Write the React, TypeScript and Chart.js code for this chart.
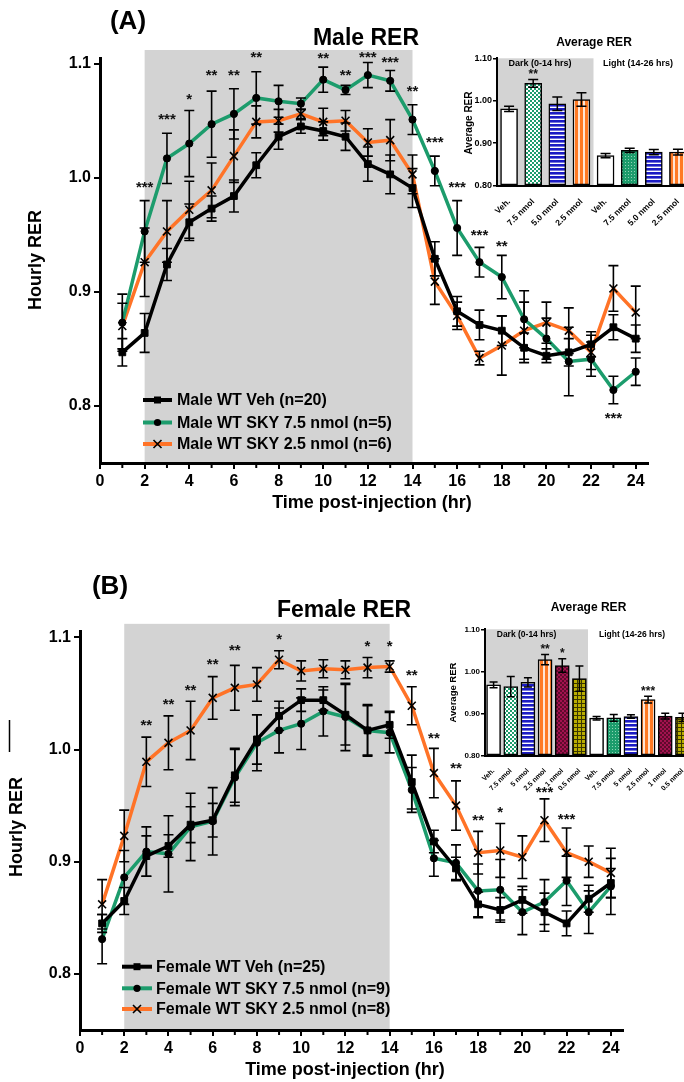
import React, { useEffect, useRef } from 'react';
import { Chart, registerables } from 'chart.js';

Chart.register(...registerables);

const FONT = '"Liberation Sans", Arial, Helvetica, sans-serif';
const GREEN = '#1c9c6c';
const ORANGE = '#ff7327';
const SHADE = '#d3d3d3';

// ---------------- data ----------------
const hours = [1, 2, 3, 4, 5, 6, 7, 8, 9, 10, 11, 12, 13, 14, 15, 16, 17, 18, 19, 20, 21, 22, 23, 24];
const hourTicks = [0, 1, 2, 3, 4, 5, 6, 7, 8, 9, 10, 11, 12, 13, 14, 15, 16, 17, 18, 19, 20, 21, 22, 23, 24];
const rerTicks = [0.8, 0.9, 1.0, 1.1];
const avgTicks = [0.8, 0.9, 1.0, 1.1];
const darkPhase = [2, 14];
const shadeTop = 1.112;

// Panel A – male
const maleVeh = [0.847, 0.864, 0.924, 0.961, 0.973, 0.984, 1.011, 1.036, 1.045, 1.041, 1.036, 1.012, 1.003, 0.991, 0.929, 0.883, 0.871, 0.866, 0.851, 0.844, 0.847, 0.854, 0.869, 0.859];
const maleVehErr = [0.012, 0.017, 0.014, 0.016, 0.011, 0.014, 0.011, 0.011, 0.006, 0.008, 0.012, 0.015, 0.017, 0.017, 0.015, 0.013, 0.013, 0.013, 0.013, 0.006, 0.012, 0.011, 0.011, 0.012];
const maleSky75 = [0.873, 0.953, 1.017, 1.030, 1.047, 1.056, 1.070, 1.067, 1.065, 1.086, 1.077, 1.090, 1.085, 1.051, 1.006, 0.956, 0.926, 0.913, 0.876, 0.859, 0.839, 0.841, 0.814, 0.830];
const maleSky75Err = [0.025, 0.027, 0.022, 0.029, 0.029, 0.022, 0.023, 0.014, 0.005, 0.011, 0.004, 0.011, 0.009, 0.013, 0.013, 0.024, 0.013, 0.019, 0.025, 0.018, 0.030, 0.015, 0.012, 0.012];
const maleSky25 = [0.870, 0.926, 0.953, 0.972, 0.989, 1.019, 1.049, 1.050, 1.056, 1.049, 1.050, 1.031, 1.033, 1.003, 0.909, 0.879, 0.842, 0.853, 0.866, 0.873, 0.866, 0.847, 0.903, 0.882];
const maleSky25Err = [0.020, 0.030, 0.027, 0.025, 0.024, 0.023, 0.014, 0.010, 0.004, 0.012, 0.009, 0.012, 0.018, 0.017, 0.020, 0.012, 0.006, 0.026, 0.025, 0.018, 0.020, 0.015, 0.020, 0.023];
const maleStarHours = [2, 3, 4, 5, 6, 7, 10, 11, 12, 13, 14, 15, 16, 17, 18, 23];
const maleStarLabels = ['***', '***', '*', '**', '**', '**', '**', '**', '***', '***', '**', '***', '***', '***', '**', '***'];
const maleStarY = [0.994, 1.053, 1.071, 1.092, 1.092, 1.108, 1.107, 1.092, 1.108, 1.103, 1.078, 1.033, 0.994, 0.952, 0.942, 0.791];

// Panel B – female
const femVeh = [0.845, 0.865, 0.905, 0.914, 0.933, 0.937, 0.977, 1.009, 1.030, 1.044, 1.044, 1.031, 1.017, 1.022, 0.971, 0.918, 0.894, 0.862, 0.857, 0.866, 0.855, 0.845, 0.867, 0.881];
const femVehErr = [0.008, 0.012, 0.018, 0.010, 0.016, 0.015, 0.024, 0.022, 0.013, 0.010, 0.009, 0.027, 0.023, 0.012, 0.024, 0.010, 0.010, 0.011, 0.011, 0.012, 0.017, 0.011, 0.012, 0.013];
const femSky75 = [0.831, 0.886, 0.909, 0.907, 0.931, 0.936, 0.975, 1.006, 1.017, 1.023, 1.034, 1.029, 1.017, 1.015, 0.964, 0.903, 0.899, 0.874, 0.875, 0.855, 0.864, 0.883, 0.855, 0.878];
const femSky75Err = [0.022, 0.024, 0.022, 0.034, 0.030, 0.030, 0.025, 0.025, 0.020, 0.023, 0.022, 0.030, 0.022, 0.018, 0.020, 0.016, 0.016, 0.024, 0.027, 0.020, 0.020, 0.022, 0.019, 0.025];
const femSky25 = [0.862, 0.923, 0.989, 1.006, 1.017, 1.046, 1.055, 1.058, 1.080, 1.070, 1.072, 1.071, 1.073, 1.074, 1.039, 0.979, 0.950, 0.908, 0.910, 0.904, 0.937, 0.908, 0.900, 0.890];
const femSky25Err = [0.022, 0.023, 0.022, 0.024, 0.026, 0.019, 0.020, 0.015, 0.008, 0.009, 0.008, 0.008, 0.009, 0.005, 0.017, 0.022, 0.022, 0.019, 0.024, 0.019, 0.019, 0.022, 0.014, 0.022];
const femStarHours = [3, 4, 5, 6, 7, 9, 13, 14, 15, 16, 17, 18, 19, 21, 22];
const femStarLabels = ['**', '**', '**', '**', '**', '*', '*', '*', '**', '**', '**', '**', '*', '***', '***'];
const femStarY = [1.024, 1.0425, 1.055, 1.078, 1.091, 1.100, 1.094, 1.094, 1.068, 1.012, 0.985, 0.939, 0.946, 0.964, 0.940];

// Insets – average RER
const maleAvgLabels = ['Veh.', '7.5 nmol', '5.0 nmol', '2.5 nmol', 'Veh.', '7.5 nmol', '5.0 nmol', '2.5 nmol'];
const maleAvg = [0.981, 1.041, 0.993, 1.003, 0.871, 0.883, 0.879, 0.879];
const maleAvgErr = [0.006, 0.009, 0.016, 0.016, 0.005, 0.005, 0.006, 0.007];
const maleAvgStars = ['', '**', '', '', '', '', '', ''];
const maleAvgFills = ['white', 'greenCheck', 'blueStripe', 'orangeStripe', 'white', 'greenDot', 'blueStripe', 'orangeStripe'];

const femAvgLabels = ['Veh.', '7.5 nmol', '5 nmol', '2.5 nmol', '1 nmol', '0.5 nmol', 'Veh.', '7.5 nmol', '5 nmol', '2.5 nmol', '1 nmol', '0.5 nmol'];
const femAvg = [0.968, 0.964, 0.974, 1.028, 1.014, 0.983, 0.889, 0.890, 0.893, 0.933, 0.894, 0.891];
const femAvgErr = [0.007, 0.024, 0.011, 0.012, 0.016, 0.030, 0.004, 0.008, 0.004, 0.008, 0.007, 0.010];
const femAvgStars = ['', '', '', '**', '*', '', '', '', '', '***', '', ''];
const femAvgFills = ['white', 'greenCheck', 'blueStripe', 'orangeStripe', 'crimsonDot', 'oliveGrid', 'white', 'greenDot', 'blueStripe', 'orangeStripe', 'crimsonDot', 'oliveGrid'];

// ---------------- helpers ----------------
function font(size: number, weight = 'bold') {
  return `${weight} ${size}px ${FONT}`;
}

function makeFill(ctx: CanvasRenderingContext2D, kind: string): any {
  if (kind === 'white') return '#ffffff';
  const c = document.createElement('canvas');
  const g = c.getContext('2d')!;
  c.width = 4;
  c.height = 4;
  if (kind === 'greenCheck') {
    g.fillStyle = GREEN; g.fillRect(0, 0, 4, 4);
    g.fillStyle = '#ffffff'; g.fillRect(0, 0, 2, 2); g.fillRect(2, 2, 2, 2);
  } else if (kind === 'greenDot') {
    c.width = 3; c.height = 3;
    g.fillStyle = GREEN; g.fillRect(0, 0, 3, 3);
    g.fillStyle = '#8fd3b5'; g.fillRect(0, 0, 1, 1);
  } else if (kind === 'blueStripe') {
    g.fillStyle = '#1b1bc4'; g.fillRect(0, 0, 4, 4);
    g.fillStyle = '#ffffff'; g.fillRect(0, 2.6, 4, 1.4);
  } else if (kind === 'orangeStripe') {
    c.width = 5;
    g.fillStyle = '#ff7a24'; g.fillRect(0, 0, 5, 4);
    g.fillStyle = '#ffffff'; g.fillRect(3.2, 0, 1.6, 4);
  } else if (kind === 'crimsonDot') {
    g.fillStyle = '#a3124f'; g.fillRect(0, 0, 4, 4);
    g.fillStyle = '#5e0a2c'; g.fillRect(0, 0, 2, 2); g.fillRect(2, 2, 2, 2);
  } else if (kind === 'oliveGrid') {
    g.fillStyle = '#b9ad00'; g.fillRect(0, 0, 4, 4);
    g.fillStyle = '#3a3600'; g.fillRect(0, 3, 4, 1); g.fillRect(3, 0, 1, 4);
  }
  return ctx.createPattern(c, 'repeat');
}

function drawMarker(ctx: CanvasRenderingContext2D, style: string, x: number, y: number) {
  ctx.save();
  ctx.fillStyle = '#000';
  ctx.strokeStyle = '#000';
  if (style === 'rect') {
    ctx.fillRect(x - 3.5, y - 3.5, 7, 7);
  } else if (style === 'circle') {
    ctx.beginPath(); ctx.arc(x, y, 3.6, 0, Math.PI * 2); ctx.fill();
  } else {
    ctx.lineWidth = 1.6;
    ctx.beginPath();
    ctx.moveTo(x - 4, y - 4); ctx.lineTo(x + 4, y + 4);
    ctx.moveTo(x + 4, y - 4); ctx.lineTo(x - 4, y + 4);
    ctx.stroke();
  }
  ctx.restore();
}

type Series = { label: string; values: number[]; errors: number[]; color: string; point: string };

interface MainCfg {
  width: number; height: number;
  area: { left: number; right: number; top: number; bottom: number };
  series: Series[];
  starHours: number[]; starLabels: string[]; starY: number[];
  letter: string; letterPos: number[];
  title: string; titlePos: number[];
  yTitlePos: number[]; xTitlePos: number[];
  legendX: number; legendLen: number; legendTextX: number; legendRows: number[];
  stray?: boolean;
}

function createMain(canvas: HTMLCanvasElement, cfg: MainCfg) {
  const datasets = cfg.series.map((s) => ({
    label: s.label,
    data: hours.map((h, i) => ({ x: h, y: s.values[i] })),
    borderColor: s.color,
    backgroundColor: s.color,
    borderWidth: 3.5,
    pointStyle: s.point,
    pointRadius: s.point === 'crossRot' ? 5.6 : s.point === 'rect' ? 4.8 : 3.6,
    pointBackgroundColor: '#000',
    pointBorderColor: '#000',
    pointBorderWidth: s.point === 'crossRot' ? 1.6 : 1,
    tension: 0,
    clip: false as any,
  }));

  const plugin = {
    id: 'mainDeco',
    beforeDraw(chart: any) {
      const { ctx, chartArea } = chart;
      const x = chart.scales.x;
      const y = chart.scales.y;
      const x0 = x.getPixelForValue(darkPhase[0]);
      const x1 = x.getPixelForValue(darkPhase[1]);
      const yt = y.getPixelForValue(shadeTop);
      ctx.save();
      ctx.fillStyle = SHADE;
      ctx.fillRect(x0, yt, x1 - x0, chartArea.bottom - yt);
      ctx.restore();
    },
    afterDatasetsDraw(chart: any) {
      const { ctx } = chart;
      const x = chart.scales.x;
      const y = chart.scales.y;
      ctx.save();
      ctx.strokeStyle = '#000';
      ctx.lineWidth = 1.6;
      cfg.series.forEach((s) => {
        s.values.forEach((v, i) => {
          const px = x.getPixelForValue(hours[i]);
          const ya = y.getPixelForValue(v + s.errors[i]);
          const yb = y.getPixelForValue(v - s.errors[i]);
          ctx.beginPath();
          ctx.moveTo(px, ya); ctx.lineTo(px, yb);
          ctx.moveTo(px - 5, ya); ctx.lineTo(px + 5, ya);
          ctx.moveTo(px - 5, yb); ctx.lineTo(px + 5, yb);
          ctx.stroke();
        });
      });
      ctx.fillStyle = '#111';
      ctx.font = font(15);
      ctx.textAlign = 'center';
      ctx.textBaseline = 'middle';
      cfg.starHours.forEach((h, i) => {
        ctx.fillText(cfg.starLabels[i], x.getPixelForValue(h), y.getPixelForValue(cfg.starY[i]) + 3);
      });
      ctx.restore();
    },
    afterDraw(chart: any) {
      const { ctx, chartArea } = chart;
      const x = chart.scales.x;
      ctx.save();
      // short minor ticks at odd hours
      ctx.strokeStyle = '#000';
      ctx.lineWidth = 2;
      hourTicks.forEach((h) => {
        if (h % 2 === 1) {
          const px = x.getPixelForValue(h);
          ctx.beginPath();
          ctx.moveTo(px, chartArea.bottom + 1);
          ctx.lineTo(px, chartArea.bottom + 5);
          ctx.stroke();
        }
      });
      ctx.fillStyle = '#000';
      // legend
      cfg.series.forEach((s, i) => {
        const ry = cfg.legendRows[i];
        ctx.strokeStyle = s.color;
        ctx.lineWidth = 4;
        ctx.beginPath();
        ctx.moveTo(cfg.legendX, ry);
        ctx.lineTo(cfg.legendX + cfg.legendLen, ry);
        ctx.stroke();
        drawMarker(ctx, s.point, cfg.legendX + cfg.legendLen / 2, ry);
        ctx.fillStyle = '#000';
        ctx.font = font(16);
        ctx.textAlign = 'left';
        ctx.textBaseline = 'middle';
        ctx.fillText(s.label, cfg.legendTextX, ry + 1);
      });
      // panel letter & title
      ctx.textAlign = 'center';
      ctx.textBaseline = 'middle';
      ctx.font = font(26);
      ctx.fillText(cfg.letter, cfg.letterPos[0], cfg.letterPos[1]);
      ctx.textBaseline = 'alphabetic';
      ctx.font = font(23);
      ctx.fillText(cfg.title, cfg.titlePos[0], cfg.titlePos[1]);
      // axis titles
      ctx.textBaseline = 'middle';
      ctx.font = font(18);
      ctx.fillText('Time post-injection (hr)', cfg.xTitlePos[0], cfg.xTitlePos[1]);
      ctx.save();
      ctx.translate(cfg.yTitlePos[0], cfg.yTitlePos[1]);
      ctx.rotate(-Math.PI / 2);
      ctx.fillText('Hourly RER', 0, 0);
      ctx.restore();
      if (cfg.stray) {
        ctx.strokeStyle = '#000';
        ctx.lineWidth = 1.5;
        ctx.beginPath();
        ctx.moveTo(9.5, 180); ctx.lineTo(9.5, 212);
        ctx.stroke();
      }
      ctx.restore();
    },
  };

  const a = cfg.area;
  return new Chart(canvas, {
    type: 'line',
    data: { datasets },
    options: {
      responsive: false,
      animation: false,
      layout: { padding: { left: 0, top: a.top, right: cfg.width - a.right, bottom: 0 } },
      plugins: { legend: { display: false }, tooltip: { enabled: false }, title: { display: false } },
      scales: {
        x: {
          type: 'linear',
          min: 0,
          max: 24.55,
          afterFit: (s: any) => { s.height = cfg.height - a.bottom; },
          afterBuildTicks: (s: any) => { s.ticks = hourTicks.map((v) => ({ value: v })); },
          ticks: {
            autoSkip: false,
            maxRotation: 0,
            padding: 3,
            color: '#000',
            font: { family: FONT, size: 16, weight: 'bold' },
            callback: (v: any) => (Number(v) % 2 === 0 ? String(v) : ''),
          },
          grid: {
            display: true, drawOnChartArea: false, drawTicks: true, tickLength: 6, lineWidth: 2, color: '#000',
            tickColor: (c: any) => (c.tick && c.tick.value % 2 === 1 ? 'rgba(0,0,0,0)' : '#000'),
          },
          border: { display: true, width: 3, color: '#000' },
        },
        y: {
          type: 'linear',
          min: 0.75,
          max: 1.105,
          afterFit: (s: any) => { s.width = a.left; },
          afterBuildTicks: (s: any) => { s.ticks = rerTicks.map((v) => ({ value: v })); },
          ticks: {
            padding: 3,
            color: '#000',
            font: { family: FONT, size: 16, weight: 'bold' },
            callback: (v: any) => Number(v).toFixed(1),
          },
          grid: { display: true, drawOnChartArea: false, drawTicks: true, tickLength: 6, color: '#000', lineWidth: 2 },
          border: { display: true, width: 3, color: '#000' },
        },
      },
    } as any,
    plugins: [plugin],
  });
}

interface InsetCfg {
  width: number; height: number;
  area: { left: number; right: number; top: number; bottom: number };
  labels: string[]; values: number[]; errors: number[]; stars: string[]; fills: string[];
  darkCount: number; barThickness: number; capHalf: number;
  titlePos: number[]; darkPos: number[]; lightPos: number[]; periodFont: number;
  yTitlePos: number[]; yTitleFont: number; yTickFont: number; xTickFont: number;
}

function createInset(canvas: HTMLCanvasElement, cfg: InsetCfg) {
  const ctx0 = canvas.getContext('2d')!;
  const fills = cfg.fills.map((k) => makeFill(ctx0, k));
  const a = cfg.area;

  const plugin = {
    id: 'insetDeco',
    beforeDraw(chart: any) {
      const { ctx, chartArea } = chart;
      const x = chart.scales.x;
      const y = chart.scales.y;
      const xr = (x.getPixelForValue(cfg.darkCount - 1) + x.getPixelForValue(cfg.darkCount)) / 2;
      const yt = y.getPixelForValue(1.1);
      ctx.save();
      ctx.fillStyle = SHADE;
      ctx.fillRect(chartArea.left, yt, xr - chartArea.left, chartArea.bottom - yt);
      ctx.restore();
    },
    afterDatasetsDraw(chart: any) {
      const { ctx } = chart;
      const y = chart.scales.y;
      const meta = chart.getDatasetMeta(0);
      ctx.save();
      ctx.strokeStyle = '#000';
      ctx.lineWidth = 1.5;
      meta.data.forEach((el: any, i: number) => {
        const v = cfg.values[i];
        const e = cfg.errors[i];
        const ya = y.getPixelForValue(v + e);
        const yb = y.getPixelForValue(v - e);
        const c = cfg.capHalf;
        ctx.beginPath();
        ctx.moveTo(el.x, ya); ctx.lineTo(el.x, yb);
        ctx.moveTo(el.x - c, ya); ctx.lineTo(el.x + c, ya);
        ctx.moveTo(el.x - c, yb); ctx.lineTo(el.x + c, yb);
        ctx.stroke();
        if (cfg.stars[i]) {
          ctx.fillStyle = '#111';
          ctx.font = font(12);
          ctx.textAlign = 'center';
          ctx.textBaseline = 'middle';
          ctx.fillText(cfg.stars[i], el.x, ya - 5);
        }
      });
      ctx.restore();
    },
    afterDraw(chart: any) {
      const { ctx } = chart;
      ctx.save();
      ctx.fillStyle = '#000';
      ctx.textAlign = 'center';
      ctx.textBaseline = 'middle';
      ctx.font = font(12);
      ctx.fillText('Average RER', cfg.titlePos[0], cfg.titlePos[1]);
      ctx.font = font(cfg.periodFont);
      ctx.fillText('Dark (0-14 hrs)', cfg.darkPos[0], cfg.darkPos[1]);
      ctx.fillText('Light (14-26 hrs)', cfg.lightPos[0], cfg.lightPos[1]);
      ctx.font = font(cfg.yTitleFont);
      ctx.translate(cfg.yTitlePos[0], cfg.yTitlePos[1]);
      ctx.rotate(-Math.PI / 2);
      ctx.fillText('Average RER', 0, 0);
      ctx.restore();
    },
  };

  return new Chart(canvas, {
    type: 'bar',
    data: {
      labels: cfg.labels,
      datasets: [
        {
          data: cfg.values,
          backgroundColor: fills,
          borderColor: '#000',
          borderWidth: 1.5,
          borderSkipped: false,
          barThickness: cfg.barThickness,
          base: 0.8,
        } as any,
      ],
    },
    options: {
      responsive: false,
      animation: false,
      layout: { padding: { left: 0, top: a.top, right: cfg.width - a.right, bottom: 0 } },
      plugins: { legend: { display: false }, tooltip: { enabled: false } },
      scales: {
        x: {
          type: 'category',
          offset: true,
          afterFit: (s: any) => { s.height = cfg.height - a.bottom; },
          ticks: {
            autoSkip: false,
            minRotation: 45,
            maxRotation: 45,
            padding: 3,
            color: '#000',
            font: { family: FONT, size: cfg.xTickFont, weight: 'bold' },
          },
          grid: { display: false },
          border: { display: true, width: 2, color: '#000' },
        },
        y: {
          type: 'linear',
          min: 0.8,
          max: 1.1,
          afterFit: (s: any) => { s.width = a.left; },
          afterBuildTicks: (s: any) => { s.ticks = avgTicks.map((v) => ({ value: v })); },
          ticks: {
            padding: 1,
            color: '#000',
            font: { family: FONT, size: cfg.yTickFont, weight: 'bold' },
            callback: (v: any) => Number(v).toFixed(2),
          },
          grid: { display: true, drawOnChartArea: false, drawTicks: true, tickLength: 4, color: '#000', lineWidth: 1.5 },
          border: { display: true, width: 2, color: '#000' },
        },
      },
    } as any,
    plugins: [plugin],
  });
}

// ---------------- configs ----------------
const maleCfg: MainCfg = {
  width: 684, height: 540,
  area: { left: 100, right: 648, top: 58, bottom: 463 },
  series: [
    { label: 'Male WT Veh (n=20)', values: maleVeh, errors: maleVehErr, color: '#000000', point: 'rect' },
    { label: 'Male WT SKY 7.5 nmol (n=5)', values: maleSky75, errors: maleSky75Err, color: GREEN, point: 'circle' },
    { label: 'Male WT SKY 2.5 nmol (n=6)', values: maleSky25, errors: maleSky25Err, color: ORANGE, point: 'crossRot' },
  ],
  starHours: maleStarHours, starLabels: maleStarLabels, starY: maleStarY,
  letter: '(A)', letterPos: [128, 22],
  title: 'Male RER', titlePos: [366, 45],
  yTitlePos: [36, 260], xTitlePos: [372, 503],
  legendX: 143, legendLen: 29, legendTextX: 177, legendRows: [400, 422.5, 444],
};

const femCfg: MainCfg = {
  width: 684, height: 542,
  area: { left: 80, right: 623, top: 91.7, bottom: 490 },
  series: [
    { label: 'Female WT Veh (n=25)', values: femVeh, errors: femVehErr, color: '#000000', point: 'rect' },
    { label: 'Female WT SKY 7.5 nmol (n=9)', values: femSky75, errors: femSky75Err, color: GREEN, point: 'circle' },
    { label: 'Female WT SKY 2.5 nmol (n=8)', values: femSky25, errors: femSky25Err, color: ORANGE, point: 'crossRot' },
  ],
  starHours: femStarHours, starLabels: femStarLabels, starY: femStarY,
  letter: '(B)', letterPos: [110, 47],
  title: 'Female RER', titlePos: [344, 77],
  yTitlePos: [17, 287], xTitlePos: [345, 530],
  legendX: 122, legendLen: 30, legendTextX: 156, legendRows: [426.7, 448.3, 469],
  stray: true,
};

const maleInsetCfg: InsetCfg = {
  width: 300, height: 230,
  area: { left: 97, right: 290, top: 58.3, bottom: 185.7 },
  labels: maleAvgLabels, values: maleAvg, errors: maleAvgErr, stars: maleAvgStars, fills: maleAvgFills,
  darkCount: 4, barThickness: 17, capHalf: 5,
  titlePos: [194, 43], darkPos: [140, 64], lightPos: [238, 64], periodFont: 9,
  yTitlePos: [69, 123], yTitleFont: 10, yTickFont: 9, xTickFont: 8.5,
};

const femInsetCfg: InsetCfg = {
  width: 310, height: 250,
  area: { left: 95, right: 301, top: 69.3, bottom: 195.7 },
  labels: femAvgLabels, values: femAvg, errors: femAvgErr, stars: femAvgStars, fills: femAvgFills,
  darkCount: 6, barThickness: 14, capHalf: 4,
  titlePos: [198.5, 47.5], darkPos: [136.5, 74.5], lightPos: [242, 74.5], periodFont: 8.5,
  yTitlePos: [63.5, 132.5], yTitleFont: 9.5, yTickFont: 8, xTickFont: 7,
};

export default function App() {
  const aRef = useRef<HTMLCanvasElement>(null);
  const bRef = useRef<HTMLCanvasElement>(null);
  const aiRef = useRef<HTMLCanvasElement>(null);
  const biRef = useRef<HTMLCanvasElement>(null);

  useEffect(() => {
    const charts = [
      createMain(aRef.current!, maleCfg),
      createMain(bRef.current!, femCfg),
      createInset(aiRef.current!, maleInsetCfg),
      createInset(biRef.current!, femInsetCfg),
    ];
    return () => charts.forEach((c) => c.destroy());
  }, []);

  const abs = (l: number, t: number, w: number, h: number): React.CSSProperties => ({
    position: 'absolute', left: l, top: t, width: w, height: h,
  });

  return (
    <div style={{ position: 'absolute', left: 0, top: 0, width: 684, height: 1082, overflow: 'hidden', background: '#fff' }}>
      <canvas ref={aRef} width={684} height={540} style={abs(0, 0, 684, 540)} />
      <canvas ref={bRef} width={684} height={542} style={abs(0, 540, 684, 542)} />
      <canvas ref={aiRef} width={300} height={230} style={abs(400, 0, 300, 230)} />
      <canvas ref={biRef} width={310} height={250} style={abs(390, 560, 310, 250)} />
    </div>
  );
}
